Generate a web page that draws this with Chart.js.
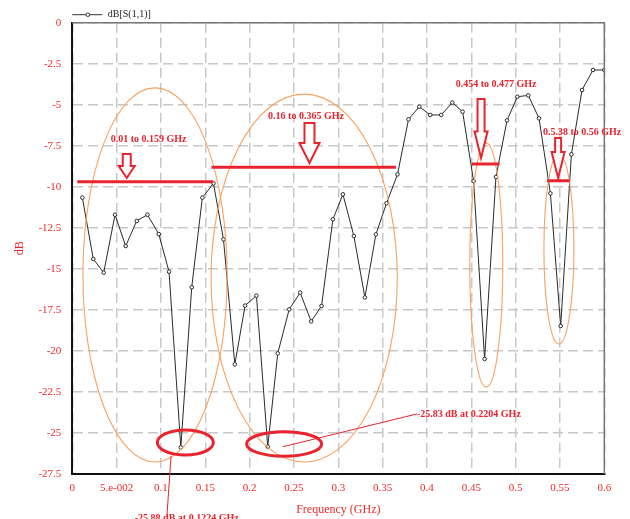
<!DOCTYPE html>
<html>
<head>
<meta charset="utf-8">
<script src="https://cdn.jsdelivr.net/npm/chart.js@4.4.0/dist/chart.umd.min.js"></script>
<style>
  html, body { margin: 0; padding: 0; background: #fff; }
  #wrap { width: 630px; height: 519px; position: relative; }
</style>
</head>
<body>
<div id="wrap"><canvas id="c-s11"></canvas></div>
<script>
// S11 trace
const freqGHz = [0.0113, 0.0237, 0.0354, 0.0482, 0.0602, 0.0727, 0.0847, 0.0975, 0.1091, 0.1224,
  0.1347, 0.1467, 0.1592, 0.1705, 0.1833, 0.1949, 0.2077, 0.2204, 0.2317, 0.2446,
  0.2570, 0.2694, 0.2811, 0.2939, 0.3052, 0.3176, 0.3300, 0.3424, 0.3544, 0.3668,
  0.3792, 0.3913, 0.4037, 0.4161, 0.4286, 0.4402, 0.4526, 0.4650, 0.4778, 0.4903,
  0.5019, 0.5143, 0.5264, 0.5392, 0.5508, 0.5629, 0.5749, 0.5873, 0.6];
const s11dB = [-10.66, -14.40, -15.23, -11.70, -13.61, -12.08, -11.70, -12.88, -15.17, -25.88,
  -16.12, -10.66, -9.79, -13.2, -20.82, -17.24, -16.63, -25.83, -20.15, -17.47,
  -16.45, -18.2, -17.26, -11.98, -10.46, -13.0, -16.74, -12.9, -11.0, -9.24,
  -5.89, -5.12, -5.62, -5.62, -4.87, -5.42, -9.65, -20.49, -9.40, -5.95,
  -4.51, -4.43, -5.83, -10.40, -18.48, -8.02, -4.10, -2.88, -2.88];

const xTickValues = [0, 0.05, 0.1, 0.15, 0.2, 0.25, 0.3, 0.35, 0.4, 0.45, 0.5, 0.55, 0.6];
const xTickLabels = ["0", "5.e-002", "0.1", "0.15", "0.2", "0.25", "0.3", "0.35", "0.4", "0.45", "0.5", "0.55", "0.6"];
const yTickValues = [0, -2.5, -5, -7.5, -10, -12.5, -15, -17.5, -20, -22.5, -25, -27.5];
const yTickLabels = ["0", "-2.5", "-5", "-7.5", "-10", "-12.5", "-15", "-17.5", "-20", "-22.5", "-25", "-27.5"];

// bandwidth markers (data units: GHz / dB)
const bandLabels = ["0.01 to 0.159 GHz", "0.16 to 0.365 GHz", "0.454 to 0.477 GHz", "0.5.38 to 0.56 GHz"];
const bandStartGHz = [0.0056, 0.157, 0.4508, 0.5354];
const bandEndGHz = [0.159, 0.365, 0.4819, 0.561];
const bandLevelDB = [-9.69, -8.81, -8.61, -9.63];
const bandLabelAt = [[0.086, -7.09], [0.2636, -5.69], [0.478, -3.74], [0.575, -6.66]];
// arrows: [freq, top dB, tip dB, shaft half width px, head half width px, head start fraction]
const bandArrows = [
  [0.0614, -8.0, -9.46, 4, 8, 0.5],
  [0.2675, -6.11, -8.55, 5, 10, 0.5],
  [0.461, -4.65, -8.24, 3.5, 6.5, 0.55],
  [0.5479, -7.03, -9.46, 3, 6.5, 0.35]
];
// orange ellipses round each band: [cx GHz, cy dB, rx GHz, ry dB]
const bandEllipses = [
  [0.0933, -15.37, 0.0813, 11.4],
  [0.2615, -15.56, 0.105, 11.21],
  [0.4669, -14.77, 0.0186, 7.43],
  [0.5488, -13.79, 0.0169, 5.79]
];
// minima call-outs
const minEllipses = [[0.1275, -25.58, 0.0316, 0.76], [0.2389, -25.67, 0.0423, 0.75]];
const minLabels = ["-25.88 dB at 0.1224 GHz", "-25.83 dB at 0.2204 GHz"];
const minLeaders = [[0.1114, -26.39, 0.1068, -30.0], [0.2375, -25.84, 0.3887, -23.84]];
const minLabelAt = [[0.129, -30.2, "center"], [0.3887, -23.84, "left"]];

const RED = "#e8242e";
const TEXT_RED = "#f02a2a";
const ORANGE = "#f7a25e";

const decorations = {
  id: "decorations",
  afterDatasetsDraw(chart) {
    const { ctx, chartArea: a, scales: { x, y } } = chart;
    const px = (v) => x.getPixelForValue(v);
    const py = (v) => y.getPixelForValue(v);
    ctx.save();

    // frame top / right
    ctx.strokeStyle = "#777";
    ctx.lineWidth = 1.5;
    ctx.beginPath();
    ctx.moveTo(a.left, a.top);
    ctx.lineTo(a.right, a.top);
    ctx.lineTo(a.right, a.bottom);
    ctx.stroke();

    // legend
    const ly = a.top - 8;
    ctx.strokeStyle = "#333";
    ctx.lineWidth = 1;
    ctx.beginPath();
    ctx.moveTo(a.left, ly);
    ctx.lineTo(a.left + 30, ly);
    ctx.stroke();
    ctx.beginPath();
    ctx.arc(a.left + 15.5, ly, 1.8, 0, Math.PI * 2);
    ctx.fillStyle = "#fff";
    ctx.fill();
    ctx.stroke();
    ctx.fillStyle = "#222";
    ctx.font = "10px 'Liberation Serif'";
    ctx.textBaseline = "middle";
    ctx.textAlign = "left";
    ctx.fillText("dB[S(1,1)]", a.left + 35.5, ly);

    // orange ellipses
    ctx.strokeStyle = ORANGE;
    ctx.lineWidth = 1.1;
    bandEllipses.forEach(([cx, cy, rx, ry]) => {
      ctx.beginPath();
      ctx.ellipse(px(cx), py(cy), Math.abs(px(cx + rx) - px(cx)), Math.abs(py(cy + ry) - py(cy)), 0, 0, Math.PI * 2);
      ctx.stroke();
    });

    // band lines
    ctx.strokeStyle = RED;
    ctx.lineWidth = 3;
    bandLevelDB.forEach((lvl, i) => {
      ctx.beginPath();
      ctx.moveTo(px(bandStartGHz[i]), py(lvl));
      ctx.lineTo(px(bandEndGHz[i]), py(lvl));
      ctx.stroke();
    });

    // hollow arrows
    ctx.lineWidth = 2;
    bandArrows.forEach(([f, top, tip, sw, hw, hf]) => {
      const cx = px(f), y0 = py(top), y1 = py(tip);
      const yh = y0 + (y1 - y0) * hf;
      ctx.beginPath();
      ctx.moveTo(cx - sw, y0);
      ctx.lineTo(cx + sw, y0);
      ctx.lineTo(cx + sw, yh);
      ctx.lineTo(cx + hw, yh);
      ctx.lineTo(cx, y1);
      ctx.lineTo(cx - hw, yh);
      ctx.lineTo(cx - sw, yh);
      ctx.closePath();
      ctx.fillStyle = "rgba(255,255,255,0.85)";
      ctx.fill();
      ctx.strokeStyle = RED;
      ctx.stroke();
    });

    // band labels
    ctx.fillStyle = RED;
    ctx.font = "bold 10px 'Liberation Serif'";
    ctx.textAlign = "center";
    bandLabels.forEach((t, i) => ctx.fillText(t, px(bandLabelAt[i][0]), py(bandLabelAt[i][1])));

    // minima call-outs
    ctx.strokeStyle = RED;
    ctx.lineWidth = 3;
    minEllipses.forEach(([cx, cy, rx, ry]) => {
      ctx.beginPath();
      ctx.ellipse(px(cx), py(cy), Math.abs(px(cx + rx) - px(cx)), Math.abs(py(cy + ry) - py(cy)), 0, 0, Math.PI * 2);
      ctx.stroke();
    });
    ctx.lineWidth = 1;
    minLeaders.forEach(([x0, y0, x1, y1]) => {
      ctx.beginPath();
      ctx.moveTo(px(x0), py(y0));
      ctx.lineTo(px(x1), py(y1));
      ctx.stroke();
    });
    minLabels.forEach((t, i) => {
      ctx.textAlign = minLabelAt[i][2];
      ctx.fillText(t, px(minLabelAt[i][0]), py(minLabelAt[i][1]));
    });

    ctx.restore();
  }
};

new Chart(document.getElementById("c-s11"), {
  type: "line",
  data: {
    datasets: [{
      label: "dB[S(1,1)]",
      data: freqGHz.map((f, i) => ({ x: f, y: s11dB[i] })),
      borderColor: "#2a2a2a",
      borderWidth: 1,
      pointRadius: 1.8,
      pointBackgroundColor: "#fff",
      pointBorderColor: "#2a2a2a",
      pointBorderWidth: 1,
      tension: 0
    }]
  },
  options: {
    responsive: true,
    maintainAspectRatio: false,
    animation: false,
    layout: { padding: { left: 0, right: 25.7, top: 22.7, bottom: 0 } },
    plugins: { legend: { display: false }, tooltip: { enabled: false } },
    scales: {
      x: {
        type: "linear",
        min: 0,
        max: 0.6,
        afterBuildTicks: (s) => { s.ticks = xTickValues.map((v) => ({ value: v })); },
        afterFit: (s) => { s.height = 45; },
        grid: { color: "#c8c8c8", lineWidth: 1.5, drawTicks: false },
        border: { color: "#111", width: 2, dash: [10, 5] },
        ticks: {
          padding: 8,
          color: TEXT_RED,
          font: { family: "'Liberation Serif'", size: 11 },
          maxRotation: 0,
          autoSkip: false,
          callback: (v) => xTickLabels[xTickValues.findIndex((t) => Math.abs(t - v) < 1e-6)]
        },
        title: { display: true, text: "Frequency (GHz)", color: TEXT_RED, font: { family: "'Liberation Serif'", size: 12 }, padding: { top: 0, bottom: 2 } }
      },
      y: {
        min: -27.5,
        max: 0,
        afterBuildTicks: (s) => { s.ticks = yTickValues.map((v) => ({ value: v })); },
        afterFit: (s) => { s.width = 72.3; },
        grid: { color: "#c8c8c8", lineWidth: 1.5, drawTicks: false },
        border: { color: "#111", width: 2, dash: [10, 5] },
        ticks: {
          padding: 11,
          color: TEXT_RED,
          font: { family: "'Liberation Serif'", size: 11 },
          autoSkip: false,
          callback: (v) => yTickLabels[yTickValues.findIndex((t) => Math.abs(t - v) < 1e-6)]
        },
        title: { display: true, text: "dB", color: TEXT_RED, font: { family: "'Liberation Serif'", size: 12 }, padding: { top: 13, bottom: 0 } }
      }
    }
  },
  plugins: [decorations]
});
</script>
</body>
</html>
